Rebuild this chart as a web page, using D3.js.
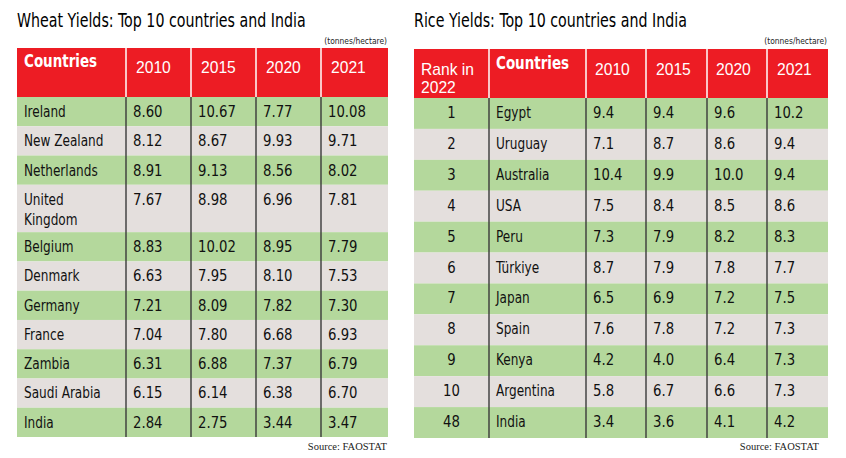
<!DOCTYPE html>
<html>
<head>
<meta charset="utf-8">
<script src="https://cdn.jsdelivr.net/npm/d3@7"></script>
<style>
  body { margin: 0; background: #fff; }
  svg { display: block; }
  .body-txt { font-family: "DejaVu Sans Condensed", sans-serif; font-size: 16px; fill: #111; }
  .head-txt { font-family: "Liberation Sans", Arial, sans-serif; font-size: 17px; fill: #fff; }
  .head-bold { font-family: "DejaVu Sans Condensed", sans-serif; font-size: 17px; font-weight: bold; fill: #fff; }
  .title { font-family: "DejaVu Sans Condensed", sans-serif; font-size: 20px; fill: #000; }
  .unit { font-family: "DejaVu Sans Condensed", sans-serif; font-size: 9.5px; fill: #222; }
  .src { font-family: "Liberation Serif", "DejaVu Serif", serif; font-size: 10.5px; fill: #222; }
</style>
</head>
<body>
<script>
// wheat data (tonnes/hectare)
var years = ["2010", "2015", "2020", "2021"];
var wheatCountries = ["Ireland", "New Zealand", "Netherlands", "United Kingdom", "Belgium", "Denmark",
                      "Germany", "France", "Zambia", "Saudi Arabia", "India"];
var wheat2010 = [8.60, 8.12, 8.91, 7.67, 8.83, 6.63, 7.21, 7.04, 6.31, 6.15, 2.84];
var wheat2015 = [10.67, 8.67, 9.13, 8.98, 10.02, 7.95, 8.09, 7.80, 6.88, 6.14, 2.75];
var wheat2020 = [7.77, 9.93, 8.56, 6.96, 8.95, 8.10, 7.82, 6.68, 7.37, 6.38, 3.44];
var wheat2021 = [10.08, 9.71, 8.02, 7.81, 7.79, 7.53, 7.30, 6.93, 6.79, 6.70, 3.47];

// rice data
var riceRanks = [1, 2, 3, 4, 5, 6, 7, 8, 9, 10, 48];
var riceCountries = ["Egypt", "Uruguay", "Australia", "USA", "Peru", "Türkiye", "Japan", "Spain",
                     "Kenya", "Argentina", "India"];
var rice2010 = [9.4, 7.1, 10.4, 7.5, 7.3, 8.7, 6.5, 7.6, 4.2, 5.8, 3.4];
var rice2015 = [9.4, 8.7, 9.9, 8.4, 7.9, 7.9, 6.9, 7.8, 4.0, 6.7, 3.6];
var rice2020 = [9.6, 8.6, 10.0, 8.5, 8.2, 7.8, 7.2, 7.2, 6.4, 6.6, 4.1];
var rice2021 = [10.2, 9.4, 9.4, 8.6, 8.3, 7.7, 7.5, 7.3, 7.3, 7.3, 4.2];

var GREEN = "#b4d89c", GREY = "#e4dfdd", RED = "#ed1c24";

var svg = d3.select("body").append("svg").attr("width", 846).attr("height", 458);

// squeeze glyphs horizontally, the print font is much narrower than what we have
function condense(sel, k) {
    sel.each(function() {
        var w = this.getComputedTextLength();
        d3.select(this).attr("textLength", w * k).attr("lengthAdjust", "spacingAndGlyphs");
    });
}

function drawTable(opt) {
    var g = svg.append("g");
    var rows = opt.rows;
    var x0 = opt.edges[0], x1 = opt.edges[opt.edges.length - 1];

    // header
    g.append("rect").attr("x", x0).attr("y", opt.headTop).attr("width", x1 - x0)
        .attr("height", opt.headBottom - opt.headTop).attr("fill", RED);

    // rows
    g.selectAll("rect.row").data(rows).enter().append("rect")
        .attr("class", "row")
        .attr("x", x0).attr("width", x1 - x0)
        .attr("y", function(d) { return opt.y(d); })
        .attr("height", function(d) { return opt.h(d); })
        .attr("fill", function(d, i) { return i % 2 == 0 ? GREEN : GREY; });

    // column lines
    var inner = opt.edges.slice(1, -1);
    g.selectAll("line.hsep").data(inner).enter().append("line")
        .attr("x1", function(d) { return d; }).attr("x2", function(d) { return d; })
        .attr("y1", opt.headTop).attr("y2", opt.headBottom)
        .attr("stroke", "#fff").attr("stroke-width", 1.5);
    g.selectAll("line.bsep").data(inner).enter().append("line")
        .attr("x1", function(d) { return d; }).attr("x2", function(d) { return d; })
        .attr("y1", opt.headBottom).attr("y2", opt.tableBottom)
        .attr("stroke", "#3a3a3a").attr("stroke-width", 1.4);

    // cell text
    opt.cols.forEach(function(col, ci) {
        var cells = g.selectAll("text.c" + ci).data(rows).enter().append("text")
            .attr("class", "body-txt c" + ci)
            .attr("text-anchor", col.anchor || "start")
            .attr("x", col.anchor == "middle" ? (opt.edges[ci] + opt.edges[ci + 1]) / 2 : opt.edges[ci] + 7)
            .attr("y", function(d) { return opt.y(d) + 20; })
            .each(function(d, i) {
                var lines = col.value(i).split("\n");
                var t = d3.select(this);
                lines.forEach(function(s, k) {
                    t.append("tspan").attr("x", t.attr("x")).attr("dy", k == 0 ? 0 : 20).text(s);
                });
            });
        condense(cells.selectAll("tspan"), col.squeeze || 0.92);
    });
}

// left: wheat
var fmt2 = d3.format(".2f"), fmt1 = d3.format(".1f");
var wheatLines = wheatCountries.map(function(c) { return c == "United Kingdom" ? 1.62 : 1; });
var wheatCum = [0];
wheatLines.forEach(function(l, i) { wheatCum.push(wheatCum[i] + l); });
var wy = d3.scaleLinear().domain([0, wheatCum[wheatCum.length - 1]]).range([97, 437]);

drawTable({
    edges: [17, 126, 191, 256, 321, 388],
    headTop: 48, headBottom: 97, tableBottom: 437,
    rows: d3.range(wheatCountries.length),
    y: function(i) { return wy(wheatCum[i]); },
    h: function(i) { return wy(wheatCum[i + 1]) - wy(wheatCum[i]); },
    cols: [
        { squeeze: 0.84, value: function(i) { return wheatCountries[i] == "United Kingdom" ? "United\nKingdom" : wheatCountries[i]; } },
        { value: function(i) { return fmt2(wheat2010[i]); } },
        { value: function(i) { return fmt2(wheat2015[i]); } },
        { value: function(i) { return fmt2(wheat2020[i]); } },
        { value: function(i) { return fmt2(wheat2021[i]); } }
    ]
});

var lh = svg.append("g");
lh.append("text").attr("class", "head-bold").attr("x", 24).attr("y", 67).text("Countries");
lh.selectAll("text.yr").data(years).enter().append("text")
    .attr("class", "head-txt").attr("x", function(d, i) { return [136, 201, 266, 331][i]; })
    .attr("y", 73).text(function(d) { return d; });
svg.append("text").attr("class", "title").attr("x", 17).attr("y", 27).text("Wheat Yields:  Top 10 countries and India");
svg.append("text").attr("class", "unit").attr("x", 387).attr("y", 44).attr("text-anchor", "end").text("(tonnes/hectare)");
svg.append("text").attr("class", "src").attr("x", 387).attr("y", 450).attr("text-anchor", "end").text("Source: FAOSTAT");

// right: rice
var ry = d3.scaleBand().domain(d3.range(riceRanks.length)).range([98, 438]);

drawTable({
    edges: [414, 489, 586, 646, 707, 767, 828],
    headTop: 49, headBottom: 98, tableBottom: 438,
    rows: d3.range(riceRanks.length),
    y: function(i) { return ry(i); },
    h: function() { return ry.bandwidth(); },
    cols: [
        { anchor: "middle", value: function(i) { return String(riceRanks[i]); } },
        { squeeze: 0.84, value: function(i) { return riceCountries[i]; } },
        { value: function(i) { return fmt1(rice2010[i]); } },
        { value: function(i) { return fmt1(rice2015[i]); } },
        { value: function(i) { return fmt1(rice2020[i]); } },
        { value: function(i) { return fmt1(rice2021[i]); } }
    ]
});

var rh = svg.append("g");
rh.append("text").attr("class", "head-txt").attr("x", 421).attr("y", 75).text("Rank in");
rh.append("text").attr("class", "head-txt").attr("x", 421).attr("y", 93).text("2022");
rh.append("text").attr("class", "head-bold").attr("x", 496).attr("y", 69).text("Countries");
rh.selectAll("text.yr").data(years).enter().append("text")
    .attr("class", "head-txt").attr("x", function(d, i) { return [595, 656, 716, 777][i]; })
    .attr("y", 75).text(function(d) { return d; });
svg.append("text").attr("class", "title").attr("x", 414).attr("y", 27).text("Rice Yields: Top 10 countries and India");
svg.append("text").attr("class", "unit").attr("x", 827).attr("y", 44).attr("text-anchor", "end").text("(tonnes/hectare)");
svg.append("text").attr("class", "src").attr("x", 819).attr("y", 450).attr("text-anchor", "end").text("Source: FAOSTAT");

condense(svg.selectAll("text.title"), 0.79);
condense(svg.selectAll("text.head-bold"), 0.88);
condense(svg.selectAll("text.unit"), 0.88);
condense(svg.selectAll("text.head-txt"), 0.92);
</script>
</body>
</html>
